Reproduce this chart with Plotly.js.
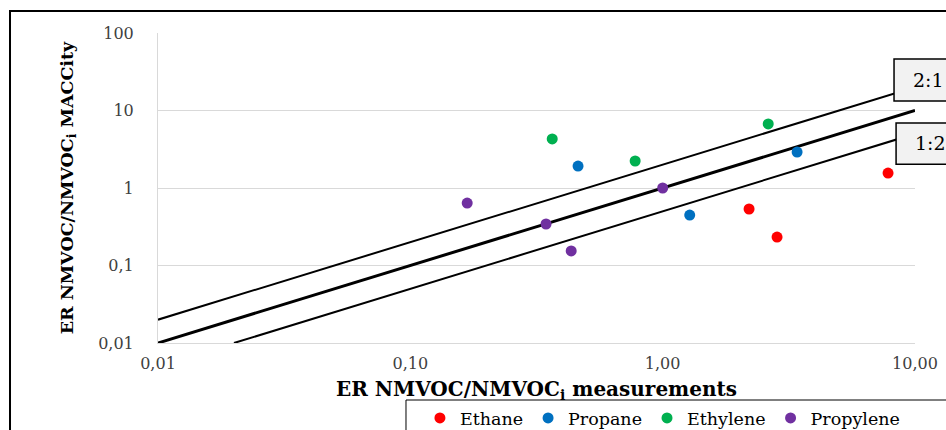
<!DOCTYPE html>
<html>
<head>
<meta charset="utf-8">
<script src="https://cdn.plot.ly/plotly-3.0.1.min.js"></script>
<style>html,body{margin:0;padding:0;background:#fff;}#chart{width:946px;height:430px;}</style>
</head>
<body>
<div id="chart"></div>
<script>
// Data
const ethaneX = [7.82, 2.84, 2.20];
const ethaneY = [1.56, 0.233, 0.536];
const propaneX = [0.462, 3.41, 1.28];
const propaneY = [1.92, 2.91, 0.448];
const ethyleneX = [0.365, 0.778, 2.62];
const ethyleneY = [4.29, 2.23, 6.70];
const propyleneX = [0.168, 0.345, 0.434, 1.0];
const propyleneY = [0.64, 0.343, 0.154, 1.0];

// Reference lines (1:1, 2:1, 1:2)
const line11X = [0.01, 10];
const line11Y = [0.01, 10];
const line21X = [0.01, 10];
const line21Y = [0.02, 20];
const line12X = [0.02, 10];
const line12Y = [0.01, 5];

const xTickVals = [0.01, 0.1, 1, 10];
const xTickText = ['0,01', '0,10', '1,00', '10,00'];
const yTickVals = [0.01, 0.1, 1, 10, 100];
const yTickText = ['0,01', '0,1', '1', '10', '100'];

const FONT = 'DejaVu Serif, Liberation Serif, serif';

function lineTrace(x, y, w) {
  return {x: x, y: y, mode: 'lines', type: 'scatter', showlegend: false, hoverinfo: 'skip',
          line: {color: '#000000', width: w}};
}
function ptTrace(name, x, y, color) {
  return {x: x, y: y, name: name, mode: 'markers', type: 'scatter',
          marker: {color: color, size: 11}};
}

const data = [
  lineTrace(line21X, line21Y, 2),
  lineTrace(line11X, line11Y, 3),
  lineTrace(line12X, line12Y, 2),
  ptTrace('Ethane', ethaneX, ethaneY, '#ff0000'),
  ptTrace('Propane', propaneX, propaneY, '#0070c0'),
  ptTrace('Ethylene', ethyleneX, ethyleneY, '#00b050'),
  ptTrace('Propylene', propyleneX, propyleneY, '#7030a0')
];

const layout = {
  width: 946, height: 430,
  margin: {l: 158, r: 31, t: 33, b: 87, autoexpand: false},
  paper_bgcolor: '#ffffff', plot_bgcolor: '#ffffff',
  font: {family: FONT, color: '#000000'},
  xaxis: {
    type: 'log', range: [-2, 1],
    tickvals: xTickVals, ticktext: xTickText,
    showgrid: false, showline: true, linecolor: '#d9d9d9', linewidth: 1,
    ticks: '', ticklabelstandoff: 6,
    tickfont: {family: FONT, size: 16, color: '#404040'},
    title: {text: 'ER NMVOC/NMVOC<sub>i</sub> measurements', standoff: 9,
            font: {family: FONT, size: 20, weight: 'bold', color: '#000000'}}
  },
  yaxis: {
    type: 'log', range: [-2, 2],
    tickvals: yTickVals, ticktext: yTickText,
    showgrid: true, gridcolor: '#d9d9d9', gridwidth: 1,
    showline: true, linecolor: '#d9d9d9', linewidth: 1,
    ticks: '', ticklabelstandoff: 20,
    tickfont: {family: FONT, size: 16, color: '#404040'},
    title: {text: 'ER NMVOC/NMVOC<sub>i</sub> MACCity', standoff: 20,
            font: {family: FONT, size: 17.5, weight: 'bold', color: '#000000'}}
  },
  showlegend: true,
  legend: {
    orientation: 'h', x: 0.346, xanchor: 'left', y: -0.184, yanchor: 'top',
    bgcolor: 'rgba(0,0,0,0)', borderwidth: 0,
    font: {family: FONT, size: 17.5, color: '#000000'}
  },
  shapes: [
    // outer frame
    {type: 'rect', xref: 'paper', yref: 'paper', x0: -0.1955, x1: 1.08, y0: -0.33, y1: 1.071,
     line: {color: '#000000', width: 2}, fillcolor: 'rgba(0,0,0,0)'},
    // legend box
    {type: 'rect', xref: 'paper', yref: 'paper', x0: 0.3276, x1: 1.08, y0: -0.34, y1: -0.1839,
     line: {color: '#000000', width: 1}, fillcolor: 'rgba(0,0,0,0)'},
    // 2:1 label box
    {type: 'rect', xref: 'paper', yref: 'paper', x0: 0.9723, x1: 1.08, y0: 0.7806, y1: 0.916,
     line: {color: '#000000', width: 1.5}, fillcolor: '#f2f2f2', layer: 'above'},
    // 1:2 label box
    {type: 'rect', xref: 'paper', yref: 'paper', x0: 0.975, x1: 1.08, y0: 0.577, y1: 0.7097,
     line: {color: '#000000', width: 1.5}, fillcolor: '#f2f2f2', layer: 'above'}
  ],
  annotations: [
    {text: '2:1', xref: 'paper', yref: 'paper', x: 0.995, y: 0.848, xanchor: 'left', yanchor: 'middle',
     showarrow: false, font: {family: FONT, size: 19, color: '#000000'}},
    {text: '1:2', xref: 'paper', yref: 'paper', x: 0.997, y: 0.645, xanchor: 'left', yanchor: 'middle',
     showarrow: false, font: {family: FONT, size: 19, color: '#000000'}}
  ]
};

Plotly.newPlot('chart', data, layout, {displayModeBar: false, staticPlot: true});
</script>
</body>
</html>
